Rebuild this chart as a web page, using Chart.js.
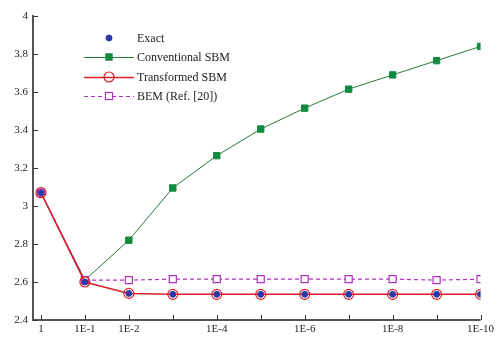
<!DOCTYPE html>
<html>
<head>
<meta charset="utf-8">
<script src="https://cdn.jsdelivr.net/npm/chart.js@4"></script>
<style>
  html, body { margin: 0; padding: 0; background: #fff; }
  #wrap { width: 497px; height: 338px; }
</style>
</head>
<body>
<div id="wrap"><canvas id="chart"></canvas></div>
<script>
// x categories (tolerance), only some are labelled on the axis
let categories = ['1', '1E-1', '1E-2', '1E-3', '1E-4', '1E-5', '1E-6', '1E-7', '1E-8', '1E-9', '1E-10'];
let tickLabels = ['1', '1E-1', '1E-2', '', '1E-4', '', '1E-6', '', '1E-8', '', '1E-10'];

let exact        = [3.07, 2.60, 2.54, 2.535, 2.535, 2.535, 2.535, 2.535, 2.535, 2.535, 2.535];
let conventional = [3.07, 2.61, 2.82, 3.095, 3.265, 3.405, 3.515, 3.615, 3.69, 3.765, 3.84];
let transformed  = [3.07, 2.60, 2.54, 2.535, 2.535, 2.535, 2.535, 2.535, 2.535, 2.535, 2.535];
let bem          = [3.07, 2.61, 2.61, 2.615, 2.615, 2.615, 2.615, 2.615, 2.615, 2.61, 2.615];

function pts(values) {
    return values.map((v, i) => ({ x: i, y: v }));
}

const serif = '"Liberation Serif", "DejaVu Serif", serif';
const axisColor = '#555';

// ticks drawn inside the plot area, axis lines, and the in-plot legend
const decorPlugin = {
    id: 'decor',
    afterDatasetsDraw(chart) {
        const ctx = chart.ctx;
        const area = chart.chartArea;
        const xs = chart.scales.x;
        const ys = chart.scales.y;
        ctx.save();
        ctx.strokeStyle = axisColor;
        ctx.lineWidth = 2;
        ctx.beginPath();
        ctx.moveTo(area.left, area.top - 1);
        ctx.lineTo(area.left, area.bottom);
        ctx.lineTo(area.right, area.bottom);
        ctx.stroke();

        ctx.lineWidth = 1;
        ctx.strokeStyle = '#333';
        xs.ticks.forEach(t => {
            let px = Math.round(xs.getPixelForValue(t.value)) + 0.5;
            ctx.beginPath();
            ctx.moveTo(px, area.bottom);
            ctx.lineTo(px, area.bottom - 5);
            ctx.stroke();
        });
        ys.ticks.forEach(t => {
            let py = Math.round(ys.getPixelForValue(t.value)) + 0.5;
            ctx.beginPath();
            ctx.moveTo(area.left, py);
            ctx.lineTo(area.left + 5, py);
            ctx.stroke();
        });

        // legend
        const x0 = 84, x1 = 134, tx = 137;
        const rows = [38, 57, 77, 96];
        chart.data.datasets.forEach((ds, i) => {
            let y = rows[i];
            let mx = (x0 + x1) / 2;
            if (ds.showLine !== false) {
                ctx.strokeStyle = ds.borderColor;
                ctx.lineWidth = ds.borderWidth;
                ctx.setLineDash(ds.borderDash || []);
                ctx.beginPath();
                ctx.moveTo(x0, y + 0.5);
                ctx.lineTo(x1, y + 0.5);
                ctx.stroke();
                ctx.setLineDash([]);
            }
            let r = ds.pointRadius;
            ctx.fillStyle = ds.pointBackgroundColor;
            ctx.strokeStyle = ds.pointBorderColor;
            ctx.lineWidth = ds.pointBorderWidth;
            if (ds.pointStyle === 'rect') {
                let s = r * Math.SQRT2;
                ctx.fillRect(mx - s / 2, y - s / 2, s, s);
                ctx.strokeRect(mx - s / 2, y - s / 2, s, s);
            } else {
                ctx.beginPath();
                ctx.arc(mx, y, r, 0, Math.PI * 2);
                ctx.fill();
                ctx.stroke();
            }
            ctx.fillStyle = '#222';
            ctx.font = '12px ' + serif;
            ctx.textBaseline = 'middle';
            ctx.textAlign = 'left';
            ctx.fillText(ds.label, tx, y + 1);
        });
        ctx.restore();
    }
};

new Chart(document.getElementById('chart').getContext('2d'), {
    type: 'line',
    data: {
        datasets: [{
            label: 'Exact',
            data: pts(exact),
            order: 0,
            showLine: false,
            pointStyle: 'circle',
            pointRadius: 3,
            pointBackgroundColor: '#2a3aa8',
            pointBorderColor: '#2a3aa8',
            pointBorderWidth: 1,
            borderColor: '#2a3aa8',
            borderWidth: 0
        }, {
            label: 'Conventional SBM',
            data: pts(conventional),
            order: 3,
            borderColor: '#2b7a3c',
            borderWidth: 1,
            pointStyle: 'rect',
            pointRadius: 4.5,
            pointBackgroundColor: '#0f8a3e',
            pointBorderColor: '#0f8a3e',
            pointBorderWidth: 1
        }, {
            label: 'Transformed SBM',
            data: pts(transformed),
            order: 1,
            borderColor: '#d8202a',
            borderWidth: 1.5,
            pointStyle: 'circle',
            pointRadius: 5,
            pointBackgroundColor: 'rgba(255,255,255,0)',
            pointBorderColor: '#d8202a',
            pointBorderWidth: 1.2
        }, {
            label: 'BEM (Ref. [20])',
            data: pts(bem),
            order: 2,
            borderColor: '#b030c0',
            borderWidth: 1.2,
            borderDash: [4, 3],
            pointStyle: 'rect',
            pointRadius: 5,
            pointBackgroundColor: '#fff',
            pointBorderColor: '#b030c0',
            pointBorderWidth: 1.2
        }]
    },
    options: {
        responsive: true,
        maintainAspectRatio: false,
        animation: false,
        layout: { padding: { left: 0, right: 16, top: 16, bottom: 0 } },
        plugins: {
            legend: { display: false },
            tooltip: { enabled: false }
        },
        scales: {
            x: {
                type: 'linear',
                min: -0.18,
                max: 10,
                afterBuildTicks: scale => {
                    scale.ticks = categories.map((c, i) => ({ value: i }));
                },
                afterFit: scale => { scale.height = 18; },
                grid: { display: false, drawTicks: false },
                border: { display: false },
                ticks: {
                    autoSkip: false,
                    maxRotation: 0,
                    padding: 3,
                    color: '#222',
                    font: { family: serif, size: 11 },
                    callback: (v) => tickLabels[Math.round(v)]
                }
            },
            y: {
                min: 2.4,
                max: 4,
                afterFit: scale => { scale.width = 33; },
                grid: { display: false, drawTicks: false },
                border: { display: false },
                ticks: {
                    stepSize: 0.2,
                    padding: 5,
                    color: '#222',
                    font: { family: serif, size: 11 },
                    callback: v => String(Number(v.toFixed(1)))
                }
            }
        }
    },
    plugins: [decorPlugin]
});
</script>
</body>
</html>
